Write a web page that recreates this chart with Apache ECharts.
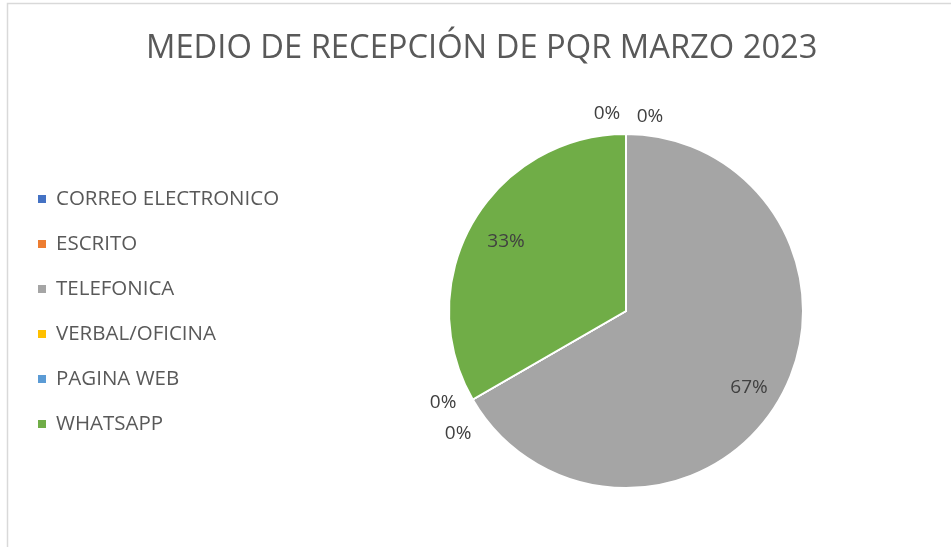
<!DOCTYPE html>
<html>
<head>
<meta charset="utf-8">
<script src="https://cdn.jsdelivr.net/npm/echarts@6/dist/echarts.min.js"></script>
<style>
html,body{margin:0;padding:0;background:#fff;}
#chart{width:951px;height:547px;}
</style>
</head>
<body>
<div id="chart"></div>
<script>
const titleText = 'MEDIO DE RECEPCIÓN DE PQR MARZO 2023';
const categories = ['CORREO ELECTRONICO', 'ESCRITO', 'TELEFONICA', 'VERBAL/OFICINA', 'PAGINA WEB', 'WHATSAPP'];
const values = [0, 0, 2, 0, 0, 1];
const colors = ['#4472C4', '#ED7D31', '#A5A5A5', '#FFC000', '#5B9BD5', '#70AD47'];
// label nudges (styling only)
const zeroOffsets = [[-19, 5], [24, 8], [0, 0], [-8, -9], [7, 22], [0, 0]];
const innerOffsets = [[0, 0], [0, 0], [-3, 4], [0, 0], [0, 0], [6, 3]];

const FONT = 'Open Sans';
const center = [626, 311];
const R = 177;

const chart = echarts.init(document.getElementById('chart'), null, {renderer: 'canvas'});

const baseData = categories.map((c, i) => ({name: c, value: values[i], itemStyle: {color: colors[i]}}));

const labelStyle = {fontFamily: FONT, fontSize: 19, color: '#404040', formatter: '{d}%'};

chart.setOption({
  animation: false,
  color: colors,
  graphic: [{
    type: 'rect', silent: true,
    shape: {x: 7.5, y: 3.5, width: 2000, height: 2000},
    style: {fill: 'none', stroke: '#d9d9d9', lineWidth: 1.5}
  }],
  title: {
    text: titleText, left: 146, top: 32, padding: 0,
    textStyle: {fontFamily: FONT, fontSize: 32.7, fontWeight: 'normal', color: '#595959'}
  },
  legend: {
    orient: 'vertical', left: 38, top: 187, padding: 0,
    icon: 'rect', itemWidth: 8, itemHeight: 8, itemGap: 21,
    itemStyle: {borderWidth: 0},
    data: categories,
    textStyle: {fontFamily: FONT, fontSize: 20.5, color: '#595959', lineHeight: 24, padding: [0, 0, 0, 5]}
  },
  series: [
    {
      type: 'pie', center: center, radius: R, startAngle: 90, clockwise: true,
      silent: true, percentPrecision: 0,
      itemStyle: {borderColor: '#fff', borderWidth: 2},
      label: {show: false}, labelLine: {show: false},
      data: baseData
    },
    {
      type: 'pie', center: center, radius: [108, R], startAngle: 90, clockwise: true,
      silent: true, legendHoverLink: false, percentPrecision: 0,
      itemStyle: {color: 'rgba(0,0,0,0)', borderWidth: 0},
      label: Object.assign({show: true, position: 'inside'}, labelStyle),
      labelLine: {show: false},
      data: categories.map((c, i) => ({name: c, value: values[i], itemStyle: {color: 'rgba(0,0,0,0)'}, label: {show: values[i] !== 0, offset: innerOffsets[i]}}))
    },
    {
      type: 'pie', center: center, radius: [R, R + 44], startAngle: 90, clockwise: true,
      silent: true, legendHoverLink: false, percentPrecision: 0,
      itemStyle: {color: 'rgba(0,0,0,0)', borderWidth: 0},
      label: Object.assign({show: true, position: 'inside'}, labelStyle),
      labelLine: {show: false},
      data: categories.map((c, i) => ({name: c, value: values[i], itemStyle: {color: 'rgba(0,0,0,0)'}, label: {show: values[i] === 0, offset: zeroOffsets[i]}}))
    }
  ]
});
</script>
</body>
</html>
